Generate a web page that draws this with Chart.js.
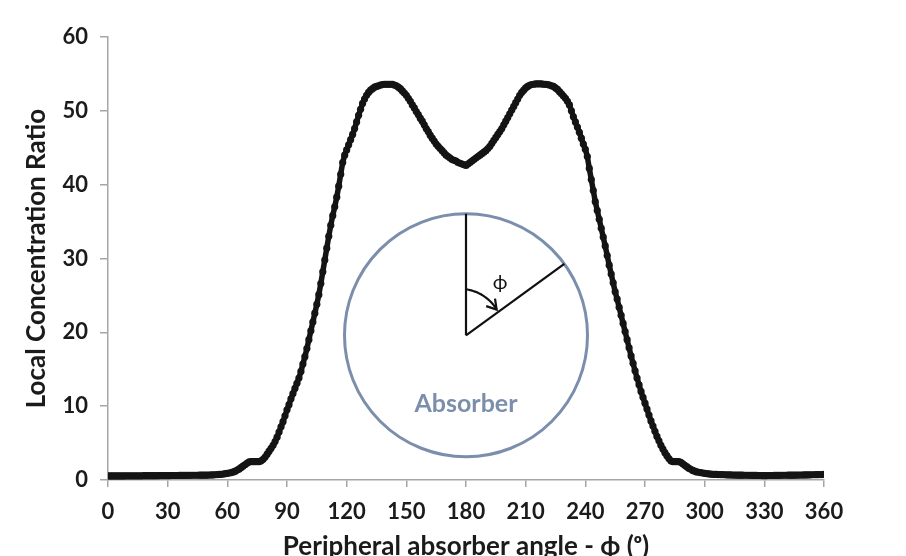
<!DOCTYPE html>
<html>
<head>
<meta charset="utf-8">
<script src="https://cdn.jsdelivr.net/npm/chart.js@4/dist/chart.umd.min.js"></script>
<style>
  html, body { margin: 0; padding: 0; background: #ffffff; }
  #wrap { width: 906px; height: 556px; position: relative; }
</style>
</head>
<body>
<div id="wrap"><canvas id="c" width="906" height="556"></canvas></div>
<script>
// ---- Data ----
const angleStart = 0;      // degrees
const angleStep = 1;       // one sample per degree
// Local concentration ratio, one value per degree from 0 to 360
const ratio = [
  0.55,0.55,0.55,0.55,0.55,0.55,0.55,0.55,0.55,0.56,
  0.56,0.56,0.56,0.56,0.57,0.57,0.57,0.57,0.58,0.58,
  0.58,0.58,0.59,0.59,0.59,0.59,0.6,0.6,0.6,0.6,
  0.6,0.6,0.61,0.61,0.61,0.61,0.62,0.62,0.62,0.62,
  0.63,0.63,0.63,0.64,0.64,0.64,0.65,0.65,0.66,0.66,
  0.67,0.68,0.69,0.7,0.71,0.73,0.75,0.78,0.81,0.85,
  0.9,0.95,1.0,1.1,1.2,1.35,1.5,1.7,1.9,2.1,
  2.3,2.45,2.5,2.5,2.5,2.5,2.5,2.6,2.8,3.1,
  3.5,3.9,4.3,4.7,5.2,5.8,6.5,7.2,7.9,8.7,
  9.5,10.2,11.0,11.7,12.4,13.1,13.8,14.7,15.7,16.7,
  17.8,19.0,20.2,21.4,22.6,23.8,25.1,26.6,28.2,29.8,
  31.4,33.0,34.5,35.8,37.0,38.3,39.8,41.4,43.0,44.0,
  44.7,45.4,46.1,46.8,47.6,48.5,49.4,50.2,51.0,51.6,
  52.1,52.5,52.8,53.0,53.2,53.3,53.4,53.5,53.55,53.6,
  53.6,53.6,53.6,53.6,53.5,53.4,53.2,53.0,52.7,52.4,
  52.1,51.7,51.3,50.8,50.4,49.9,49.5,49.0,48.6,48.1,
  47.6,47.2,46.7,46.3,45.9,45.5,45.2,44.9,44.6,44.3,
  44.0,43.8,43.6,43.4,43.3,43.2,43.0,42.9,42.8,42.7,
  42.6,42.8,43.0,43.2,43.4,43.6,43.8,44.0,44.2,44.4,
  44.6,44.9,45.2,45.6,46.0,46.4,46.8,47.2,47.6,48.1,
  48.6,49.1,49.6,50.1,50.6,51.1,51.6,52.1,52.5,52.8,
  53.1,53.3,53.45,53.55,53.6,53.65,53.65,53.65,53.65,53.6,
  53.6,53.55,53.5,53.4,53.3,53.1,52.9,52.6,52.3,52.0,
  51.7,51.3,50.8,50.0,49.2,48.5,47.8,47.1,46.3,45.5,
  44.8,43.8,42.2,40.7,39.2,37.7,36.5,35.3,34.1,32.9,
  31.7,30.4,29.1,27.9,26.7,25.5,24.5,23.4,22.3,21.2,
  20.1,19.0,17.9,16.8,15.8,14.8,13.8,12.9,12.0,11.2,
  10.4,9.6,8.8,8.0,7.3,6.6,5.9,5.3,4.7,4.2,
  3.7,3.3,2.9,2.6,2.5,2.5,2.5,2.5,2.4,2.2,
  2.0,1.8,1.6,1.45,1.3,1.2,1.1,1.05,1.0,0.95,
  0.9,0.85,0.82,0.8,0.78,0.76,0.75,0.74,0.73,0.72,
  0.71,0.7,0.7,0.69,0.68,0.67,0.67,0.66,0.65,0.65,
  0.64,0.64,0.63,0.63,0.62,0.62,0.62,0.61,0.61,0.6,
  0.6,0.6,0.61,0.61,0.61,0.62,0.62,0.62,0.63,0.63,
  0.64,0.64,0.65,0.65,0.66,0.66,0.67,0.67,0.68,0.68,
  0.69,0.69,0.7,0.7,0.71,0.71,0.72,0.72,0.73,0.74,
  0.75
];
const xTicks = [0, 30, 60, 90, 120, 150, 180, 210, 240, 270, 300, 330, 360];
const yTicks = [0, 10, 20, 30, 40, 50, 60];
const xTitle = 'Peripheral absorber angle - \u03D5 (\u1D52)';
const yTitle = 'Local Concentration Ratio';
const insetPhi = '\u03D5';
const insetLabel = 'Absorber';
// Inset diagram anchor (data coordinates): centre of the absorber sketch
const insetCentre = { angle: 180, ratio: 19.6 };

// ---- Build points ----
const points = ratio.map((v, i) => ({ x: angleStart + i * angleStep, y: v }));

const FONT = 'Lato, "Open Sans", "Liberation Sans", sans-serif';
const TXT = '#1b1b1b';
const AXIS = '#a6a6a6';

const insetPlugin = {
  id: 'absorberInset',
  beforeDatasetsDraw(chart) {
    const ctx = chart.ctx;
    const xs = chart.scales.x, ys = chart.scales.y;
    const cx = xs.getPixelForValue(insetCentre.angle);
    const cy = ys.getPixelForValue(insetCentre.ratio);
    const R = 121.5;
    ctx.save();
    // circle
    ctx.beginPath();
    ctx.arc(cx, cy, R, 0, Math.PI * 2);
    ctx.strokeStyle = '#7b8eab';
    ctx.lineWidth = 3;
    ctx.stroke();
    // vertical radius
    ctx.strokeStyle = '#111111';
    ctx.lineWidth = 2.2;
    ctx.beginPath();
    ctx.moveTo(cx, cy);
    ctx.lineTo(cx, cy - R);
    ctx.stroke();
    // angled radius (54 deg clockwise from up)
    const a = 54 * Math.PI / 180;
    ctx.beginPath();
    ctx.moveTo(cx, cy);
    ctx.lineTo(cx + R * Math.sin(a), cy - R * Math.cos(a));
    ctx.stroke();
    // angle arc with arrow
    const r0 = 46, r1 = 40;
    const endA = 50 * Math.PI / 180;
    ctx.beginPath();
    const n = 30;
    let tipX = 0, tipY = 0;
    for (let k = 0; k <= n; k++) {
      const t = k / n;
      const th = t * endA;
      const rr = r0 + (r1 - r0) * t;
      const px = cx + rr * Math.sin(th), py = cy - rr * Math.cos(th);
      if (k === 0) ctx.moveTo(px, py); else ctx.lineTo(px, py);
      tipX = px; tipY = py;
    }
    ctx.stroke();
    // arrow head
    const dirX = Math.cos(endA), dirY = Math.sin(endA);
    const back = Math.atan2(-dirY, -dirX);
    const hl = 11;
    ctx.beginPath();
    ctx.moveTo(tipX + hl * Math.cos(back + 0.55), tipY + hl * Math.sin(back + 0.55));
    ctx.lineTo(tipX, tipY);
    ctx.lineTo(tipX + hl * Math.cos(back - 0.55), tipY + hl * Math.sin(back - 0.55));
    ctx.stroke();
    // labels
    ctx.fillStyle = '#111111';
    ctx.font = '20px ' + FONT;
    ctx.textAlign = 'center';
    ctx.textBaseline = 'middle';
    ctx.fillText(insetPhi, cx + 34, cy - 53);
    ctx.fillStyle = '#7b8eab';
    ctx.font = 'bold 25px ' + FONT;
    ctx.fillText(insetLabel, cx, cy + 69);
    ctx.restore();
  }
};

new Chart(document.getElementById('c'), {
  type: 'line',
  data: {
    datasets: [{
      data: points,
      borderColor: '#141414',
      backgroundColor: '#141414',
      borderWidth: 5.5,
      pointRadius: 3.6,
      pointBorderWidth: 0,
      pointBackgroundColor: '#141414',
      tension: 0,
      fill: false
    }]
  },
  options: {
    responsive: false,
    animation: false,
    layout: { padding: { top: 37, right: 82, left: 0, bottom: 0 } },
    plugins: { legend: { display: false }, tooltip: { enabled: false } },
    scales: {
      x: {
        type: 'linear',
        min: 0, max: 360,
        afterFit(s) { s.height = 76; },
        afterBuildTicks(s) { s.ticks = xTicks.map(v => ({ value: v })); },
        border: { color: AXIS, width: 1.5 },
        grid: { drawOnChartArea: false, drawTicks: true, tickLength: 7, color: AXIS, lineWidth: 1.5 },
        ticks: { color: TXT, font: { family: FONT, size: 22, weight: 'bold' }, padding: 12, maxRotation: 0, autoSkip: false },
        title: { display: true, text: xTitle, color: TXT, font: { family: FONT, size: 26, weight: 'bold' }, padding: { top: 0, bottom: -6 } }
      },
      y: {
        min: 0, max: 60,
        afterFit(s) { s.width = 108; },
        afterBuildTicks(s) { s.ticks = yTicks.map(v => ({ value: v })); },
        border: { color: AXIS, width: 1.5 },
        grid: { drawOnChartArea: false, drawTicks: true, tickLength: 8, color: AXIS, lineWidth: 1.5 },
        ticks: { color: TXT, font: { family: FONT, size: 22, weight: 'bold' }, padding: 12 },
        title: { display: true, text: yTitle, color: TXT, font: { family: FONT, size: 26, weight: 'bold' }, padding: { top: 21, bottom: 0 } }
      }
    }
  },
  plugins: [insetPlugin]
});
</script>
</body>
</html>
